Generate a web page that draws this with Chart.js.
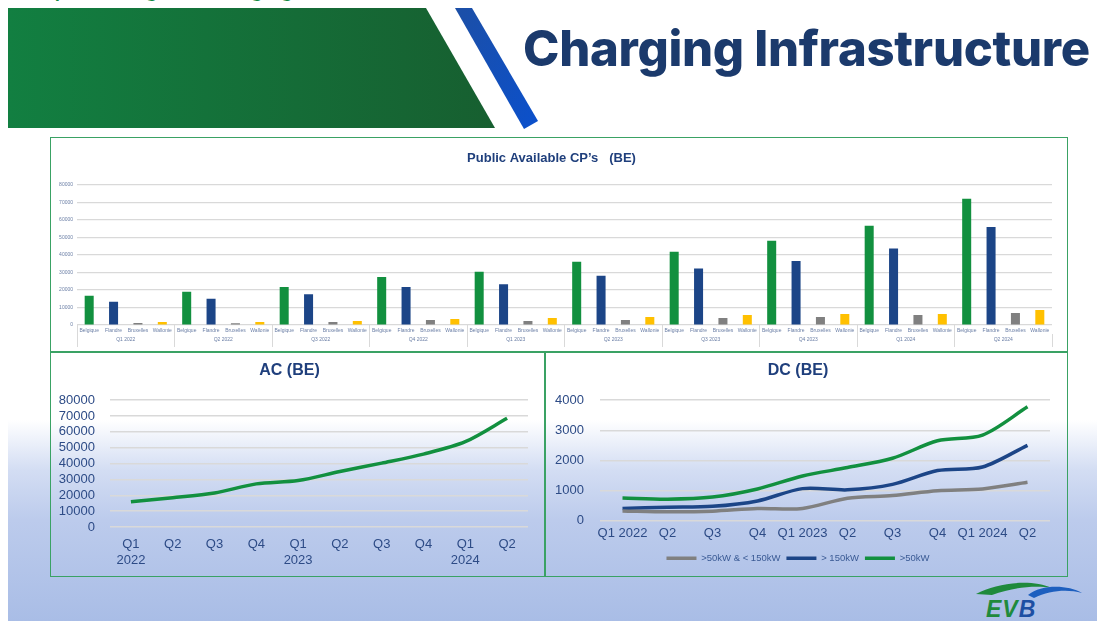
<!DOCTYPE html>
<html>
<head>
<meta charset="utf-8">
<script src="https://cdn.jsdelivr.net/npm/chart.js@4.4.1/dist/chart.umd.min.js"></script>
<style>
  html, body { margin: 0; padding: 0; width: 1105px; height: 621px; overflow: hidden; background: #fff; font-family: "Liberation Sans", Arial, sans-serif; }
  .abs { position: absolute; }
  .panel { position: absolute; box-sizing: border-box; border: 1.5px solid #3aa264; }
  #title { left: 523px; top: 19px; font-family: Inter, "Noto Sans", sans-serif; font-weight: 800; font-size: 49px; color: #1b3a6c; white-space: nowrap; letter-spacing: -0.3px; }
  #kicker { left: 40px; top: -22px; font-family: Inter, sans-serif; font-weight: 600; font-size: 20px; color: #138a43; white-space: nowrap; }
</style>
</head>
<body>
<div class="abs" style="left:8px;top:420px;width:1089px;height:201px;background:linear-gradient(#ffffff 0%, #d3ddf3 25%, #bccbec 50%, #a9bde6 100%);"></div>

<div class="abs" id="kicker">Update Belgium: Charging (BE)</div>

<svg class="abs" style="left:0;top:0" width="560" height="140">
  <defs>
    <linearGradient id="gh" x1="0" x2="1" y1="0" y2="0">
      <stop offset="0" stop-color="#127f41"/>
      <stop offset="1" stop-color="#175f30"/>
    </linearGradient>
    <linearGradient id="bh" x1="0" x2="1" y1="0" y2="1">
      <stop offset="0" stop-color="#1c4fa6"/>
      <stop offset="1" stop-color="#0b50cc"/>
    </linearGradient>
  </defs>
  <polygon points="8,8 426,8 495,128 8,128" fill="url(#gh)"/>
  <polygon points="455,8 472,8 538,121 524,129" fill="url(#bh)"/>
</svg>

<div class="abs" id="title">Charging Infrastructure</div>

<div class="panel" style="left:50px;top:137px;width:1018px;height:215px;"></div>
<div class="panel" style="left:50px;top:352px;width:495px;height:225px;"></div>
<div class="panel" style="left:545px;top:352px;width:523px;height:225px;"></div>

<canvas id="cpChart" class="abs" style="left:51px;top:138px;" width="1016" height="213"></canvas>
<canvas id="acChart" class="abs" style="left:51px;top:353px;" width="493" height="223"></canvas>
<canvas id="dcChart" class="abs" style="left:546px;top:353px;" width="521" height="220"></canvas>

<svg class="abs" style="left:970px;top:580px" width="120" height="40">
  <path d="M6,14 C28,2 62,-1 82,8 C66,5 44,7 22,15 Z" fill="#1f8a3c"/>
  <path d="M58,15 C72,4 98,5 112,13 C98,9 80,10 64,18 Z" fill="#1d5fbf"/>
  <text x="16" y="37" font-family="Liberation Sans, Arial" font-weight="bold" font-style="italic" font-size="23" letter-spacing="1"><tspan fill="#1f8a3c">EV</tspan><tspan fill="#1d4fa3">B</tspan></text>
</svg>

<script>
// Public available charge points per region, per quarter
const quarters = ['Q1 2022', 'Q2 2022', 'Q3 2022', 'Q4 2022', 'Q1 2023', 'Q2 2023', 'Q3 2023', 'Q4 2023', 'Q1 2024', 'Q2 2024'];
const regions = ['Belgique', 'Flandre', 'Bruxelles', 'Wallonie'];
const belgique  = [16600, 19000, 21700, 27400, 30300, 36000, 41700, 48000, 56600, 72000];
const flandre   = [13300, 15000, 17500, 21700, 23200, 28000, 32200, 36400, 43600, 55800];
const bruxelles = [1200, 1000, 1700, 2900, 2300, 2900, 4000, 4600, 5700, 6900];
const wallonie  = [1700, 1700, 2300, 3400, 4000, 4600, 5700, 6300, 6300, 8600];
const cpTicks = [0, 10000, 20000, 30000, 40000, 50000, 60000, 70000, 80000];

// AC charge points (BE)
const acLabels = [['Q1', '2022'], 'Q2', 'Q3', 'Q4', ['Q1', '2023'], 'Q2', 'Q3', 'Q4', ['Q1', '2024'], 'Q2'];
const acValues = [16000, 18500, 21500, 27200, 29300, 35000, 40300, 46000, 53800, 68600];
const acTicks = [0, 10000, 20000, 30000, 40000, 50000, 60000, 70000, 80000];

// DC charge points (BE)
const dcLabels = ['Q1 2022', 'Q2', 'Q3', 'Q4', 'Q1 2023', 'Q2', 'Q3', 'Q4', 'Q1 2024', 'Q2'];
const dcSeriesNames = ['>50kW & < 150kW', '> 150kW', '>50kW'];
const dcMid   = [320, 290, 310, 400, 400, 740, 830, 990, 1050, 1270];
const dcHigh  = [400, 440, 470, 650, 1060, 1020, 1200, 1660, 1780, 2500];
const dcTotal = [750, 710, 780, 1050, 1480, 1760, 2070, 2650, 2840, 3780];
const dcTicks = [0, 1000, 2000, 3000, 4000];

const NAVY = '#1f3f7c';
const AXIS = '#2d4b86';
const SMALL = '#6b7fa6';
const GREEN = '#12903f';
const BLUE = '#1c4587';
const GREY = '#808080';
const YELLOW = '#ffc000';
const GRID = '#d9d9d9';
const FONT = '"Liberation Sans", Arial, sans-serif';

Chart.defaults.font.family = FONT;
Chart.defaults.animation = false;

const plain = v => String(v);

// 1. grouped bars: one category per region inside each quarter
const regionSeries = [belgique, flandre, bruxelles, wallonie];
const regionColors = [GREEN, BLUE, GREY, YELLOW];
const barLabels = [], barValues = [], barColors = [];
quarters.forEach((q, qi) => {
    regions.forEach((r, ri) => {
        barLabels.push(r);
        barValues.push(regionSeries[ri][qi]);
        barColors.push(regionColors[ri]);
    });
});

new Chart(document.getElementById('cpChart'), {
    type: 'bar',
    data: {
        labels: barLabels,
        datasets: [{
            data: barValues,
            backgroundColor: barColors,
            barPercentage: 0.37,
            categoryPercentage: 1
        }]
    },
    options: {
        responsive: false,
        layout: { padding: { left: 0, right: 15, top: 0, bottom: 4 } },
        plugins: {
            legend: { display: false },
            tooltip: { enabled: false },
            title: {
                display: true,
                text: 'Public Available CP’s   (BE)',
                color: NAVY,
                font: { size: 13, weight: 'bold' },
                padding: { top: 13, bottom: 18 }
            }
        },
        scales: {
            x: {
                grid: {
                    offset: true,
                    drawOnChartArea: false,
                    tickLength: 9,
                    color: ctx => (ctx.index % regions.length === 0 ? GRID : 'transparent')
                },
                border: { display: false },
                ticks: { font: { size: 5 }, color: SMALL, padding: -6, maxRotation: 0, autoSkip: false },
                afterFit: s => { s.height = 9; }
            },
            x2: {
                type: 'category',
                labels: quarters,
                position: 'bottom',
                weight: 1,
                offset: true,
                grid: { offset: true, drawOnChartArea: false, tickLength: 13, color: GRID },
                border: { display: false },
                ticks: { font: { size: 5 }, color: SMALL, padding: -10, maxRotation: 0, autoSkip: false },
                afterFit: s => { s.height = 13; }
            },
            y: {
                min: cpTicks[0],
                max: cpTicks[cpTicks.length - 1],
                afterBuildTicks: s => { s.ticks = cpTicks.map(v => ({ value: v })); },
                ticks: { font: { size: 5 }, color: SMALL, padding: 4, autoSkip: false, callback: plain },
                grid: { color: GRID, lineWidth: 1.2, drawTicks: false },
                border: { display: false },
                afterFit: s => { s.width = 26; }
            }
        }
    }
});

// 2. AC line
new Chart(document.getElementById('acChart'), {
    type: 'line',
    data: {
        labels: acLabels,
        datasets: [{
            data: acValues,
            borderColor: GREEN,
            borderWidth: 3.5,
            pointRadius: 0,
            tension: 0.3,
            fill: false
        }]
    },
    options: {
        responsive: false,
        layout: { padding: { left: 0, right: 16, top: 0, bottom: 0 } },
        plugins: {
            legend: { display: false },
            tooltip: { enabled: false },
            title: {
                display: true,
                text: 'AC (BE)',
                color: NAVY,
                font: { size: 16, weight: 'bold' },
                padding: { top: 8, bottom: 20 }
            }
        },
        scales: {
            x: {
                offset: true,
                grid: { display: false, drawTicks: false },
                border: { display: false },
                ticks: { font: { size: 13 }, color: AXIS, padding: 10, maxRotation: 0, autoSkip: false },
                afterFit: s => { s.height = 49; }
            },
            y: {
                min: acTicks[0],
                max: acTicks[acTicks.length - 1],
                afterBuildTicks: s => { s.ticks = acTicks.map(v => ({ value: v })); },
                ticks: { font: { size: 13 }, color: AXIS, padding: 15, autoSkip: false, callback: plain },
                grid: { color: GRID, lineWidth: 1.5, drawTicks: false },
                border: { display: false },
                afterFit: s => { s.width = 59; }
            }
        }
    }
});

// 3. DC lines
const dcColors = [GREY, BLUE, GREEN];
new Chart(document.getElementById('dcChart'), {
    type: 'line',
    data: {
        labels: dcLabels,
        datasets: [dcMid, dcHigh, dcTotal].map((vals, i) => ({
            label: dcSeriesNames[i],
            data: vals,
            borderColor: dcColors[i],
            backgroundColor: dcColors[i],
            borderWidth: 3.5,
            pointRadius: 0,
            tension: 0.3,
            fill: false
        }))
    },
    options: {
        responsive: false,
        layout: { padding: { left: 0, right: 17, top: 0, bottom: 0 } },
        plugins: {
            tooltip: { enabled: false },
            title: {
                display: true,
                text: 'DC (BE)',
                color: NAVY,
                font: { size: 16, weight: 'bold' },
                padding: { top: 8, bottom: 20 }
            },
            legend: {
                position: 'bottom',
                labels: {
                    usePointStyle: true,
                    pointStyle: 'line',
                    pointStyleWidth: 30,
                    padding: 6,
                    color: '#3a5a94',
                    font: { size: 9.5 }
                }
            }
        },
        scales: {
            x: {
                offset: true,
                grid: { display: false, drawTicks: false },
                border: { display: false },
                ticks: { font: { size: 13 }, color: AXIS, padding: 5, maxRotation: 0, autoSkip: false },
                afterFit: s => { s.height = 27; }
            },
            y: {
                min: dcTicks[0],
                max: dcTicks[dcTicks.length - 1],
                afterBuildTicks: s => { s.ticks = dcTicks.map(v => ({ value: v })); },
                ticks: { font: { size: 13 }, color: AXIS, padding: 16, autoSkip: false, callback: plain },
                grid: { color: GRID, lineWidth: 1.5, drawTicks: false },
                border: { display: false },
                afterFit: s => { s.width = 54; }
            }
        }
    }
});
</script>
</body>
</html>
